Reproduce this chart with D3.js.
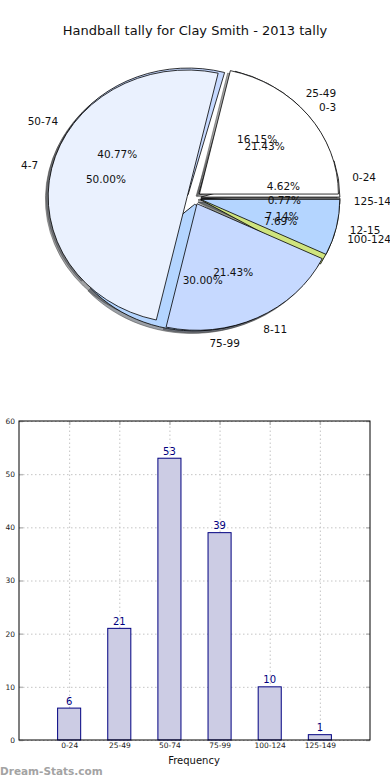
<!DOCTYPE html>
<html>
<head>
<meta charset="utf-8">
<script src="https://cdn.jsdelivr.net/npm/d3@7"></script>
<style>
body { margin: 0; background: #fff; }
text { font-family: "DejaVu Sans", sans-serif; }
</style>
</head>
<body>
<script>
// score ranges and how many games fell in each
var categories = ["0-24", "25-49", "50-74", "75-99", "100-124", "125-149"];
var counts = [6, 21, 53, 39, 10, 1];
// second ring of the pie: rules tally
var ruleCats = ["0-3", "4-7", "8-11", "12-15"];
var ruleCounts = [3, 7, 3, 1];
var yTicks = [0, 10, 20, 30, 40, 50, 60];
var sliceColors = ["#ffffff", "#eaf1fe", "#c6d9ff", "#b4d5ff", "#cfe47e", "#e6e6e6"];

var svg = d3.select("body").append("svg").attr("width", 390).attr("height", 780);

svg.append("text")
    .attr("x", 195).attr("y", 35)
    .attr("text-anchor", "middle")
    .attr("font-size", 13)
    .attr("fill", "#111")
    .text("Handball tally for Clay Smith - 2013 tally");

// ---- pie ----
var cx = 194, cy = 198, rx = 139, ry = 126.6, R = 100, explode = 0.05;
var pie = d3.pie().sort(null).value(function(d){ return d; })
    .startAngle(Math.PI / 2).endAngle(Math.PI / 2 - 2 * Math.PI);
var arc = d3.arc().innerRadius(0).outerRadius(R);

var layers = [
    {names: categories, values: counts, total: d3.sum(counts)},
    {names: ruleCats, values: ruleCounts, total: d3.sum(ruleCounts)}
];
layers.forEach(function(l){
    l.arcs = pie(l.values);
    l.arcs.forEach(function(a, i){
        var mid = (a.startAngle + a.endAngle) / 2;
        a.dx = Math.sin(mid);
        a.dy = -Math.cos(mid);
        a.color = sliceColors[i % sliceColors.length];
        a.name = l.names[i];
        a.pct = (100 * a.value / l.total).toFixed(2) + "%";
    });
});

var pg = svg.append("g")
    .attr("transform", "translate(" + cx + "," + cy + ") scale(" + (rx / R) + "," + (ry / R) + ")");

// shadows go under every wedge
layers.forEach(function(l){
    pg.append("g").selectAll("path").data(l.arcs).enter().append("path")
        .attr("d", arc)
        .attr("transform", function(a){
            return "translate(" + ((a.dx * explode - 0.02) * R) + "," + ((a.dy * explode + 0.02) * R) + ")";
        })
        .attr("fill", function(a){
            var c = d3.rgb(a.color);
            return d3.rgb(c.r * 0.3, c.g * 0.3, c.b * 0.3);
        })
        .attr("fill-opacity", 0.5)
        .attr("stroke", "#444")
        .attr("stroke-opacity", 0.5)
        .attr("stroke-width", 1)
        .attr("vector-effect", "non-scaling-stroke");
});

layers.forEach(function(l){
    pg.append("g").selectAll("path").data(l.arcs).enter().append("path")
        .attr("d", arc)
        .attr("transform", function(a){
            return "translate(" + (a.dx * explode * R) + "," + (a.dy * explode * R) + ")";
        })
        .attr("fill", function(a){ return a.color; })
        .attr("stroke", "#000")
        .attr("stroke-width", 0.8)
        .attr("vector-effect", "non-scaling-stroke");
});

layers.forEach(function(l){
    var t = svg.append("g").selectAll("text").data(l.arcs).enter();
    t.append("text")
        .attr("x", function(a){ return cx + (explode + 1.1) * rx * a.dx; })
        .attr("y", function(a){ return cy + (explode + 1.1) * ry * a.dy; })
        .attr("dy", "0.35em")
        .attr("text-anchor", function(a){ return a.dx > 0 ? "start" : "end"; })
        .attr("font-size", 10.5)
        .attr("fill", "#111")
        .text(function(a){ return a.name; });
    t.append("text")
        .attr("x", function(a){ return cx + (explode + 0.6) * rx * a.dx; })
        .attr("y", function(a){ return cy + (explode + 0.6) * ry * a.dy; })
        .attr("dy", "0.35em")
        .attr("text-anchor", "middle")
        .attr("font-size", 10.5)
        .attr("fill", "#111")
        .text(function(a){ return a.pct; });
});

// ---- bar chart ----
var plotL = 19, plotR = 370, plotT = 421, plotB = 740;
var x = d3.scaleLinear().domain([-1, 6]).range([plotL, plotR]);
var y = d3.scaleLinear().domain([0, 60]).range([plotB, plotT]);
var idx = d3.range(categories.length);

// dotted grid
svg.append("g").attr("class", "grid")
    .attr("transform", "translate(0," + plotB + ")")
    .call(d3.axisBottom(x).tickValues(idx).tickSize(-(plotB - plotT)).tickFormat(""));
svg.append("g").attr("class", "grid")
    .attr("transform", "translate(" + plotL + ",0)")
    .call(d3.axisLeft(y).tickValues(yTicks).tickSize(-(plotR - plotL)).tickFormat(""));
svg.selectAll(".grid .domain").remove();
svg.selectAll(".grid line")
    .attr("stroke", "#c4c4c4")
    .attr("stroke-dasharray", "1.5,2.5");

// little inward ticks on all four sides
[[d3.axisBottom(x).tickValues(idx), "translate(0," + plotB + ")"],
 [d3.axisTop(x).tickValues(idx), "translate(0," + plotT + ")"],
 [d3.axisLeft(y).tickValues(yTicks), "translate(" + plotL + ",0)"],
 [d3.axisRight(y).tickValues(yTicks), "translate(" + plotR + ",0)"]].forEach(function(s){
    var g = svg.append("g").attr("transform", s[1])
        .call(s[0].tickSize(-4).tickFormat(""));
    g.select(".domain").remove();
    g.selectAll("line").attr("stroke", "#bbb").attr("stroke-width", 1.5);
});

svg.append("g").selectAll("rect").data(counts).enter().append("rect")
    .attr("x", function(d, i){ return x(i - 0.23); })
    .attr("y", function(d){ return y(d); })
    .attr("width", x(0.23) - x(-0.23))
    .attr("height", function(d){ return y(0) - y(d); })
    .attr("fill", "#ccccE4")
    .attr("stroke", "#000080")
    .attr("stroke-width", 1);

svg.append("g").selectAll("text").data(counts).enter().append("text")
    .attr("x", function(d, i){ return x(i); })
    .attr("y", function(d){ return y(d) - 3.5; })
    .attr("text-anchor", "middle")
    .attr("font-size", 10)
    .attr("fill", "#000080")
    .text(function(d){ return d; });

svg.append("rect")
    .attr("x", plotL).attr("y", plotT)
    .attr("width", plotR - plotL).attr("height", plotB - plotT)
    .attr("fill", "none").attr("stroke", "#000").attr("stroke-width", 1);

var xl = svg.append("g").attr("transform", "translate(0," + plotB + ")")
    .call(d3.axisBottom(x).tickValues(idx).tickSize(0).tickPadding(3)
        .tickFormat(function(i){ return categories[i]; }));
var yl = svg.append("g").attr("transform", "translate(" + plotL + ",0)")
    .call(d3.axisLeft(y).tickValues(yTicks).tickSize(0).tickPadding(4));
[xl, yl].forEach(function(g){
    g.select(".domain").remove();
    g.selectAll("text").attr("font-family", "DejaVu Sans").attr("font-size", 7.5).attr("fill", "#222");
});

svg.append("text")
    .attr("x", 194).attr("y", 764)
    .attr("text-anchor", "middle")
    .attr("font-size", 10)
    .attr("fill", "#111")
    .text("Frequency");

svg.append("text")
    .attr("x", 0).attr("y", 775)
    .attr("font-size", 10.5)
    .attr("font-weight", "bold")
    .attr("fill", "#a3a3a3")
    .text("Dream-Stats.com");
</script>
</body>
</html>
